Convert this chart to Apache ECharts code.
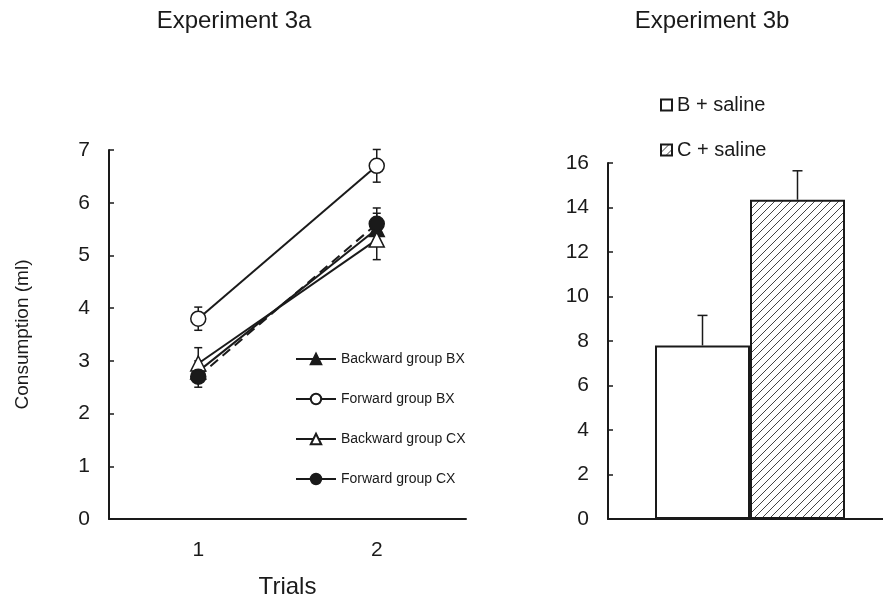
<!DOCTYPE html>
<html>
<head>
<meta charset="utf-8">
<title>Experiment 3</title>
<style>
  html, body { margin: 0; padding: 0; background: #fff; }
  #main { width: 883px; height: 598px; }
</style>
</head>
<body>
<div id="main"></div>
<script src="https://cdn.jsdelivr.net/npm/echarts@6/dist/echarts.min.js"></script>
<script>
// ---- Experiment 3a (line chart) ----
var trials = ['1', '2'];
var backwardBX = [2.8, 5.5];
var backwardBXErr = [0.2, 0.3];
var forwardBX = [3.8, 6.7];
var forwardBXErr = [0.22, 0.31];
var backwardCX = [2.95, 5.3];
var backwardCXErr = [0.3, 0.38];
var forwardCX = [2.7, 5.6];
var forwardCXErr = [0.2, 0.3];

// ---- Experiment 3b (bar chart) ----
var barNames = ['B + saline', 'C + saline'];
var barValues = [7.8, 14.35];
var barErr = [1.35, 1.3];

var FONT = '"Liberation Sans", Arial, sans-serif';
var INK = '#1a1a1a';
var BAR_W = 95;

// diagonal hatch fill
function hatch() {
  var c = document.createElement('canvas');
  c.width = 8; c.height = 8;
  var ctx = c.getContext('2d');
  ctx.fillStyle = '#fff';
  ctx.fillRect(0, 0, 8, 8);
  ctx.strokeStyle = '#444';
  ctx.lineWidth = 1;
  ctx.beginPath();
  ctx.moveTo(0, 8); ctx.lineTo(8, 0);
  ctx.moveTo(-1, 1); ctx.lineTo(1, -1);
  ctx.moveTo(7, 9); ctx.lineTo(9, 7);
  ctx.stroke();
  return c;
}

// error bars for the line chart
function errSeries(vals, errs) {
  var d = [];
  for (var i = 0; i < vals.length; i++) d.push([i, vals[i], errs[i]]);
  return {
    type: 'custom', xAxisIndex: 0, yAxisIndex: 0, z: 1, silent: true,
    data: d,
    renderItem: function (params, api) {
      var x = api.value(0), v = api.value(1), e = api.value(2);
      var hi = api.coord([x, v + e]);
      var lo = api.coord([x, v - e]);
      var st = { stroke: INK, lineWidth: 1.5 };
      return {
        type: 'group',
        children: [
          { type: 'line', shape: { x1: hi[0], y1: hi[1], x2: lo[0], y2: lo[1] }, style: st },
          { type: 'line', shape: { x1: hi[0] - 4, y1: hi[1], x2: hi[0] + 4, y2: hi[1] }, style: st },
          { type: 'line', shape: { x1: lo[0] - 4, y1: lo[1], x2: lo[0] + 4, y2: lo[1] }, style: st }
        ]
      };
    }
  };
}

function lineSeries(name, data, symbol, fill, dashed) {
  return {
    name: name, type: 'line', xAxisIndex: 0, yAxisIndex: 0, z: 3,
    data: data,
    symbol: symbol, symbolSize: symbol === 'circle' ? 15 : 15,
    itemStyle: { color: fill, borderColor: INK, borderWidth: 1.5 },
    lineStyle: { color: INK, width: 2, type: dashed ? [10, 6] : 'solid' }
  };
}

var barErrData = [];
for (var j = 0; j < barValues.length; j++) barErrData.push([0, barValues[j], barErr[j], j]);

var chart = echarts.init(document.getElementById('main'));
chart.setOption({
  animation: false,
  backgroundColor: '#fff',
  textStyle: { fontFamily: FONT, color: INK },
  title: [
    { text: 'Experiment 3a', left: 229, top: 4, textAlign: 'center',
      textStyle: { fontFamily: FONT, fontSize: 24, fontWeight: 'normal', color: INK } },
    { text: 'Experiment 3b', left: 707, top: 4, textAlign: 'center',
      textStyle: { fontFamily: FONT, fontSize: 24, fontWeight: 'normal', color: INK } }
  ],
  legend: [
    {
      orient: 'vertical', left: 290, top: 347, itemWidth: 40, itemHeight: 13, itemGap: 26,
      textStyle: { fontFamily: FONT, fontSize: 14, color: INK },
      data: [
        'Backward group BX',
        'Forward group BX',
        'Backward group CX',
        { name: 'Forward group CX', lineStyle: { type: 'solid' } }
      ]
    },
    {
      orient: 'vertical', left: 655, top: 90, itemWidth: 11, itemHeight: 11, itemGap: 25,
      icon: 'rect',
      textStyle: { fontFamily: FONT, fontSize: 20, color: INK },
      data: barNames
    }
  ],
  grid: [
    { left: 109, top: 150, right: 417, bottom: 79, outerBoundsMode: 'none' },
    { left: 608, top: 163, right: -9, bottom: 79, outerBoundsMode: 'none' }
  ],
  xAxis: [
    {
      gridIndex: 0, type: 'category', data: trials, boundaryGap: true,
      name: 'Trials', nameLocation: 'middle', nameGap: 56,
      nameTextStyle: { fontFamily: FONT, fontSize: 24, color: INK },
      axisLine: { lineStyle: { color: INK, width: 2 } },
      axisTick: { show: false },
      axisLabel: { fontFamily: FONT, fontSize: 21, color: INK, margin: 21 }
    },
    {
      gridIndex: 1, type: 'category', data: [''],
      axisLine: { lineStyle: { color: INK, width: 2 } },
      axisTick: { show: false },
      axisLabel: { show: false }
    }
  ],
  yAxis: [
    {
      gridIndex: 0, type: 'value', min: 0, max: 7, interval: 1,
      name: 'Consumption (ml)', nameLocation: 'middle', nameGap: 77,
      nameTextStyle: { fontFamily: FONT, fontSize: 19, color: INK },
      axisLine: { show: true, lineStyle: { color: INK, width: 2 } },
      axisTick: { show: true, inside: true, length: 5, lineStyle: { color: INK, width: 1.5 } },
      axisLabel: { fontFamily: FONT, fontSize: 21, color: INK, margin: 19 },
      splitLine: { show: false }
    },
    {
      gridIndex: 1, type: 'value', min: 0, max: 16, interval: 2,
      axisLine: { show: true, lineStyle: { color: INK, width: 2 } },
      axisTick: { show: true, inside: true, length: 5, lineStyle: { color: INK, width: 1.5 } },
      axisLabel: { fontFamily: FONT, fontSize: 21, color: INK, margin: 19 },
      splitLine: { show: false }
    }
  ],
  series: [
    errSeries(backwardBX, backwardBXErr),
    errSeries(forwardBX, forwardBXErr),
    errSeries(backwardCX, backwardCXErr),
    errSeries(forwardCX, forwardCXErr),
    lineSeries('Backward group BX', backwardBX, 'triangle', INK, false),
    lineSeries('Forward group BX', forwardBX, 'circle', '#fff', false),
    lineSeries('Backward group CX', backwardCX, 'triangle', '#fff', false),
    lineSeries('Forward group CX', forwardCX, 'circle', INK, true),
    {
      name: barNames[0], type: 'bar', xAxisIndex: 1, yAxisIndex: 1,
      data: [barValues[0]], barWidth: BAR_W, barGap: '0%',
      itemStyle: { color: '#fff', borderColor: INK, borderWidth: 2 }
    },
    {
      name: barNames[1], type: 'bar', xAxisIndex: 1, yAxisIndex: 1,
      data: [barValues[1]], barWidth: BAR_W, barGap: '0%',
      itemStyle: { color: { image: hatch(), repeat: 'repeat' }, borderColor: INK, borderWidth: 2 }
    },
    {
      type: 'custom', xAxisIndex: 1, yAxisIndex: 1, z: 1, silent: true,
      data: barErrData,
      renderItem: function (params, api) {
        var k = api.value(3);
        var off = (k - 0.5) * BAR_W;
        var top = api.coord([api.value(0), api.value(1)]);
        var hi = api.coord([api.value(0), api.value(1) + api.value(2)]);
        var x = top[0] + off;
        var st = { stroke: INK, lineWidth: 1.5 };
        return {
          type: 'group',
          children: [
            { type: 'line', shape: { x1: x, y1: top[1], x2: x, y2: hi[1] }, style: st },
            { type: 'line', shape: { x1: x - 5, y1: hi[1], x2: x + 5, y2: hi[1] }, style: st }
          ]
        };
      }
    }
  ]
});
</script>
</body>
</html>
